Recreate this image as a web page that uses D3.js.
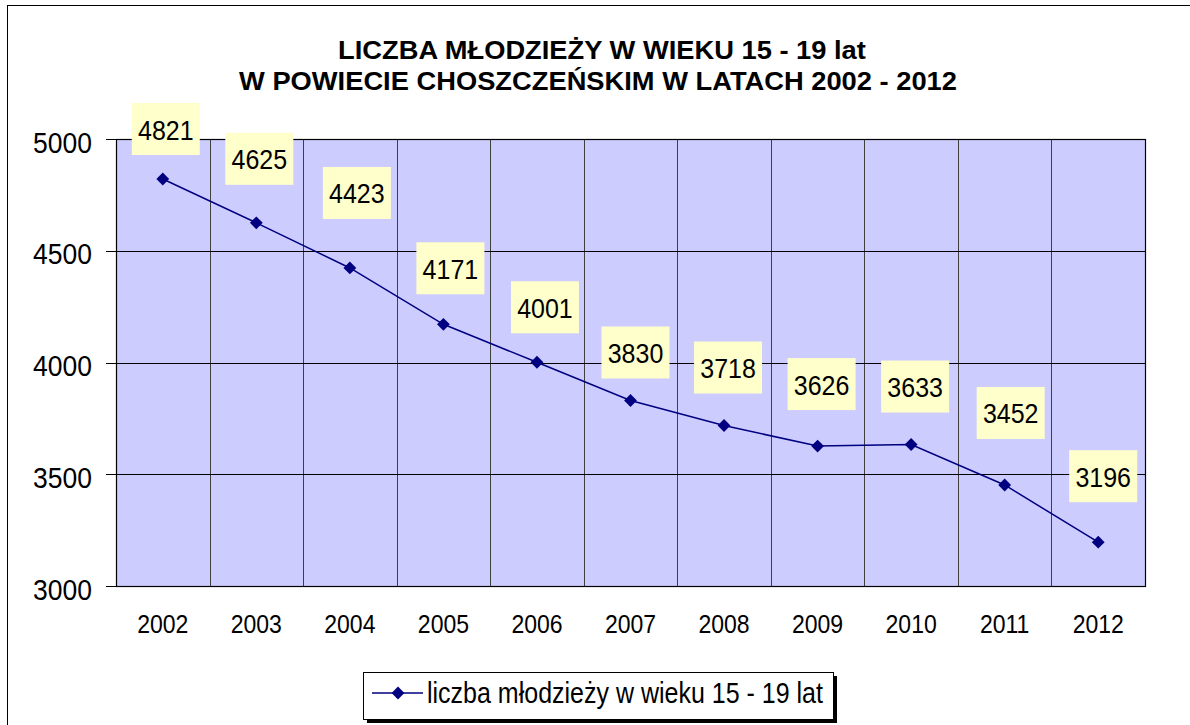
<!DOCTYPE html>
<html>
<head>
<meta charset="utf-8">
<script src="https://cdn.jsdelivr.net/npm/d3@7"></script>
<style>
  html, body { margin: 0; padding: 0; background: #fff; }
  svg { display: block; }
  text { font-family: "Liberation Sans", Arial, sans-serif; fill: #000; }
</style>
</head>
<body>
<svg id="chart" width="1190" height="725"></svg>
<script>
// ---- data ----
const years = ["2002", "2003", "2004", "2005", "2006", "2007", "2008", "2009", "2010", "2011", "2012"];
const values = [4821, 4625, 4423, 4171, 4001, 3830, 3718, 3626, 3633, 3452, 3196];
const yTicks = [3000, 3500, 4000, 4500, 5000];
const titleLines = ["LICZBA MŁODZIEŻY W WIEKU 15 - 19 lat", "W POWIECIE CHOSZCZEŃSKIM W LATACH 2002 - 2012"];
const seriesName = "liczba młodzieży w wieku 15 - 19 lat";
// manual label placement (offset from point), as in the original chart
const labelDx = [3, 3, 7, 7, 8, 5, 4, 4, 4, 6, 5];
const labelDy = [-50, -64, -75, -56, -55, -48, -58, -62, -58, -72, -66];

// ---- layout ----
const plot = { left: 116, top: 139, right: 1145, bottom: 586 };
const navy = "#000080";

const svg = d3.select("#chart");

// outer chart border
svg.append("rect")
  .attr("x", 7.5).attr("y", 5.5)
  .attr("width", 1300).attr("height", 900)
  .attr("fill", "#fff").attr("stroke", "#000").attr("stroke-width", 1);

// helper for vertically stretched text
function stretchedText(g, x, y, txt, size, sy, anchor, weight) {
  return g.append("text")
    .attr("transform", `translate(${x},${y}) scale(1,${sy})`)
    .attr("text-anchor", anchor || "middle")
    .style("font-size", size + "px")
    .style("font-weight", weight || "normal")
    .text(txt);
}

// title
const titleG = svg.append("g");
stretchedText(titleG, 602, 59, titleLines[0], 27.3, 0.93, "middle", "bold");
stretchedText(titleG, 598, 90, titleLines[1], 27.3, 0.93, "middle", "bold");

// scales
const x = d3.scaleBand().domain(years).range([plot.left, plot.right]).padding(0);
const y = d3.scaleLinear().domain([3000, 5000]).range([plot.bottom, plot.top]);

// plot background
svg.append("rect")
  .attr("x", plot.left).attr("y", plot.top)
  .attr("width", plot.right - plot.left).attr("height", plot.bottom - plot.top)
  .attr("fill", "#CCCCFF");

// vertical gridlines at band boundaries
const gx = svg.append("g");
years.slice(1).forEach(yr => {
  const xx = Math.round(x(yr)) + 0.5;
  gx.append("line")
    .attr("x1", xx).attr("x2", xx)
    .attr("y1", plot.top).attr("y2", plot.bottom)
    .attr("stroke", "#404040").attr("stroke-width", 1);
});

// horizontal gridlines
const gy = svg.append("g");
yTicks.forEach(t => {
  const yy = Math.round(y(t)) + 0.5;
  gy.append("line")
    .attr("x1", plot.left - 10).attr("x2", plot.right)
    .attr("y1", yy).attr("y2", yy)
    .attr("stroke", "#000").attr("stroke-width", 1);
});

// plot border
svg.append("rect")
  .attr("x", plot.left + 0.5).attr("y", plot.top + 0.5)
  .attr("width", plot.right - plot.left).attr("height", plot.bottom - plot.top)
  .attr("fill", "none").attr("stroke", "#000").attr("stroke-width", 1.2);

// y tick labels
const yl = svg.append("g");
yTicks.forEach(t => {
  stretchedText(yl, 92, y(t) + 13.5, String(t), 26.5, 1.1, "end");
});

// x tick labels
const xl = svg.append("g");
years.forEach(yr => {
  stretchedText(xl, x(yr) + x.bandwidth() / 2, 632.5, yr, 23, 1.16, "middle");
});

// series line
const cx = (d, i) => x(years[i]) + x.bandwidth() / 2;
const line = d3.line().x((d, i) => cx(d, i)).y(d => y(d));
svg.append("path")
  .datum(values)
  .attr("d", line)
  .attr("fill", "none")
  .attr("stroke", navy)
  .attr("stroke-width", 1.5);

// markers (diamonds)
svg.append("g").selectAll("path")
  .data(values)
  .join("path")
  .attr("d", d3.symbol().type(d3.symbolSquare).size(82))
  .attr("transform", (d, i) => `translate(${cx(d, i)},${y(d)}) rotate(45)`)
  .attr("fill", navy);

// data labels
const lg = svg.append("g");
const boxW = 68, boxH = 52;
values.forEach((v, i) => {
  const lx = cx(v, i) + labelDx[i];
  const ly = y(v) + labelDy[i];
  lg.append("rect")
    .attr("x", lx - boxW / 2).attr("y", ly - boxH / 2)
    .attr("width", boxW).attr("height", boxH)
    .attr("fill", "#FFFFCC");
  stretchedText(lg, lx, ly + 10.5, String(v), 25, 1.09, "middle");
});

// legend
const leg = svg.append("g");
const legX = 363, legY = 672, legW = 470, legH = 47;
leg.append("rect")
  .attr("x", legX + 4).attr("y", legY + 4)
  .attr("width", legW).attr("height", legH)
  .attr("fill", "#000");
leg.append("rect")
  .attr("x", legX + 0.5).attr("y", legY + 0.5)
  .attr("width", legW).attr("height", legH)
  .attr("fill", "#fff").attr("stroke", "#000").attr("stroke-width", 1);
leg.append("line")
  .attr("x1", legX + 9).attr("x2", legX + 60)
  .attr("y1", legY + 21).attr("y2", legY + 21)
  .attr("stroke", navy).attr("stroke-width", 1.5);
leg.append("path")
  .attr("d", d3.symbol().type(d3.symbolSquare).size(82))
  .attr("transform", `translate(${legX + 35},${legY + 21}) rotate(45)`)
  .attr("fill", navy);
stretchedText(leg, legX + 64, legY + 31, seriesName, 25, 1.15, "start");
</script>
</body>
</html>
